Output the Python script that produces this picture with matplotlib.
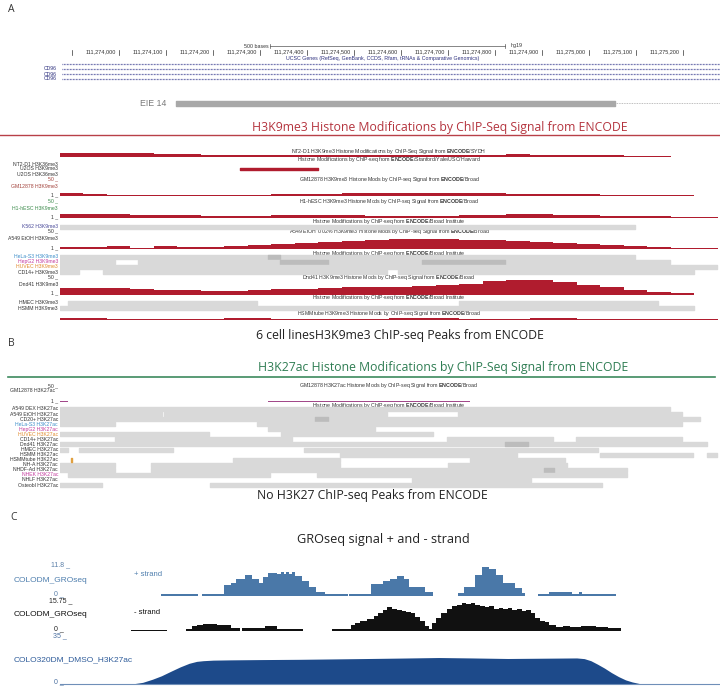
import numpy as np
import matplotlib
matplotlib.use("Agg")
import matplotlib.pyplot as plt

plt.rcParams["font.family"] = ["Liberation Sans", "DejaVu Sans"]
plt.rcParams["mathtext.fontset"] = "custom"
plt.rcParams["mathtext.rm"] = "Liberation Sans"
plt.rcParams["mathtext.bf"] = "Liberation Sans:bold"

W, H = 720, 690
POS0 = 111274000            # genomic positions below are offsets (bp) from here
WIN = (-126, 1279)          # browser window
DATA_X0, DATA_X1 = 60, 720  # pixel span of the data area

RED = "#b01c2e"
GREY = "#d9d9d9"
DARK_GREY = "#bcbcbc"
NAVY = "#2c2f7e"

# ---------------- ruler / genes ----------------
RULER_TICKS = list(range(-100, 1300, 100))
SCALE_BAR = (321, 500)
GENE_NAMES = ["", "CD96", "CD96", "CD96"]
EIE_START, EIE_END = 121, 1055

# ---------------- H3K9me3 signal (50 bp bins) ----------------
CHIP_BIN0, CHIP_BIN = -126, 50
NT2_H3K9ME3 = [14, 14, 12, 11, 9, 8, 6, 6, 5, 5, 5, 6, 6, 5, 5, 5, 5, 6, 6, 8, 6, 5, 5, 5, 2, 2, 0, 0]
GM12878_H3K9ME3 = [9, 5, 3, 3, 3, 3, 3, 3, 3, 5, 6, 6, 8, 8, 9, 9, 9, 8, 8, 6, 6, 5, 5, 3, 3, 2, 2, 0]
H1_H3K9ME3 = [12, 12, 11, 9, 9, 8, 6, 6, 6, 9, 9, 9, 9, 6, 6, 6, 6, 8, 9, 11, 11, 9, 8, 6, 6, 5, 3, 2]
A549_H3K9ME3 = [6, 6, 9, 3, 9, 6, 6, 9, 12, 15, 19, 22, 25, 28, 31, 31, 31, 28, 28, 25, 22, 19, 15, 12, 9, 6, 3, 3]
DND41_H3K9ME3 = [22, 22, 22, 19, 16, 16, 12, 12, 16, 19, 19, 22, 25, 25, 25, 28, 31, 34, 43, 47, 47, 40, 31, 25, 16, 9, 5, 0]
HSMMTUBE_H3K9ME3 = [5, 5, 4, 4, 4, 4, 4, 5, 5, 4, 4, 4, 4, 4, 5, 5, 5, 4, 4, 4, 5, 5, 4, 4, 4, 4, 3, 2]
U2OS_PEAK = (257, 423)

# H3K9me3 peak rows: (cell, y, segments, darker segments)
A_PEAKS = [
    ("K562", 227, [(-126, 1098)], []),
    ("HeLa-S3", 257, [(-126, 1098)], [(317, 343)]),
    ("HepG2", 262, [(-126, -9), (40, 1173)], [(343, 445), (645, 821)]),
    ("HUVEC", 267, [(-126, 1273)], []),
    ("CD14+", 272, [(-126, -85), (-34, 570), (594, 1224)], []),
    ("HMEC", 303, [(-109, 294), (724, 1147)], []),
    ("HSMM", 308, [(-126, 1224)], []),
]

# ---------------- H3K27ac ----------------
GM12878_H3K27AC_START = [-126, 317]
GM12878_H3K27AC_END = [-109, 747]
B_CELLS = ["A549 DEX", "A549 EtOH", "CD20+", "HeLa-S3", "HepG2", "HUVEC", "CD14+", "Dnd41",
           "HMEC", "HSMM", "HSMMtube", "NH-A", "NHDF-Ad", "NHEK", "NHLF", "Osteobl"]
B_COLORS = ["#333333", "#333333", "#333333", "#3d8ec9", "#c43c9e", "#e08a2c", "#333333", "#333333",
            "#333333", "#333333", "#333333", "#333333", "#333333", "#c43c9e", "#333333", "#333333"]
B_PEAKS = [
    [(-126, 1173)],
    [(-126, 92), (96, 570), (721, 1198)],
    [(-126, 1236)],
    [(-126, -9), (294, 1198)],
    [(317, 545)],
    [(-126, 192), (345, 668)],
    [(-9, 368), (698, 924), (973, 1198)],
    [(-126, 1251)],
    [(-126, -109), (-85, 115), (394, 1019)],
    [(470, 847), (1024, 1221), (1251, 1273)],
    [(243, 470), (747, 949)],
    [(-126, -9), (68, 470), (700, 953)],
    [(-126, -9), (68, 1081)],
    [(-109, 321), (421, 623), (626, 1081)],
    [(623, 877)],
    [(-126, -36), (194, 1028)],
]
B_DARK = {2: [(417, 445)], 7: [(821, 870)], 12: [(904, 926)]}

# ---------------- GRO-seq ----------------
GRO_PLUS_START = [90, 176, 223, 238, 248, 267, 282, 297, 306, 316, 336, 345, 350, 356, 361, 367, 375, 390, 405, 419, 439,
                  490, 537, 562, 576, 591, 606, 616, 650,
                  721, 734, 758, 773, 788, 802, 817, 842, 857,
                  891, 915, 964, 979, 985]
GRO_PLUS_END = [167, 223, 238, 248, 267, 282, 297, 306, 316, 336, 345, 350, 356, 361, 367, 375, 390, 405, 419, 439, 488,
                537, 562, 576, 591, 606, 616, 650, 668,
                734, 758, 773, 788, 802, 817, 842, 857, 863,
                915, 964, 979, 985, 1058]
GRO_PLUS_VAL = [0.74, 0.74, 4.4, 5.3, 6.8, 8.1, 6.8, 5.3, 7.6, 9.0, 8.7, 9.5, 8.7, 9.6, 8.7, 9.3, 7.7, 6.0, 3.7, 1.6, 0.74,
                0.74, 4.7, 5.8, 6.6, 7.7, 6.8, 3.7, 1.4,
                1.05, 3.7, 8.4, 11.4, 10.5, 8.4, 5.3, 3.2, 1.05,
                0.95, 1.4, 0.95, 1.4, 0.95]

GRO_MINUS_START = [25, 142, 154, 166, 179, 208, 238, 261, 311, 336,
                   454, 493, 503, 513, 527, 542, 552, 562, 571, 581, 591, 601, 611, 621, 630, 640, 650, 660,
                   665, 675, 685, 697, 709, 719, 729, 739, 749, 758, 768, 778, 788, 798, 808, 818, 827, 837,
                   847, 857, 867, 876, 886, 896, 906, 915, 930, 945, 960, 984, 1014, 1040]
GRO_MINUS_END = [102, 154, 166, 179, 208, 238, 257, 311, 336, 392,
                 493, 503, 513, 527, 542, 552, 562, 571, 581, 591, 601, 611, 621, 630, 640, 650, 660, 665,
                 675, 685, 697, 709, 719, 729, 739, 749, 758, 768, 778, 788, 798, 808, 818, 827, 837, 847,
                 857, 867, 876, 886, 896, 906, 915, 930, 945, 960, 984, 1014, 1040, 1068]
GRO_MINUS_VAL = [0.66, 1.2, 2.5, 3.0, 3.8, 3.3, 1.6, 1.6, 2.5, 1.3,
                 1.2, 3.0, 4.2, 5.5, 6.5, 8.0, 9.2, 11.0, 12.4, 11.8, 11.2, 10.6, 10.0, 9.2, 7.5, 5.0, 2.5, 0.8,
                 4.0, 7.0, 9.5, 11.5, 13.0, 13.8, 14.8, 14.3, 14.9, 13.6, 13.2, 12.5, 12.9, 11.8, 12.2, 11.3, 11.9, 10.8,
                 11.5, 10.3, 10.8, 9.2, 7.0, 5.5, 4.5, 3.0, 2.2, 2.6, 2.0, 2.5, 1.9, 1.7]

H3K27AC_POS = [27, 50, 71, 90, 110, 130, 149, 165, 179, 200, 238, 300, 385, 460, 532, 600, 680, 750, 827, 900,
               974, 990, 1004, 1018, 1033, 1048, 1063, 1078, 1092, 1112]
H3K27AC_VAL = [0, 1.2, 3.5, 6.0, 9.3, 12.5, 15.1, 16.5, 17.0, 17.4, 17.6, 17.8, 18.0, 18.3, 18.6, 18.9, 19.3, 19.0, 18.6, 18.8,
               19.0, 18.5, 17.0, 14.5, 11.6, 8.3, 5.4, 3.0, 1.5, 0]


fig = plt.figure(figsize=(W / 100, H / 100), dpi=100)
canvas = fig.add_axes([0, 0, 1, 1])
canvas.set_xlim(0, W)
canvas.set_ylim(H, 0)
canvas.axis("off")

genome = fig.add_axes([DATA_X0 / W, 0, (DATA_X1 - DATA_X0) / W, 1])
genome.set_xlim(*WIN)
genome.set_ylim(H, 0)
genome.axis("off")


def track_ax(y_top, y_base, vmax):
    ax = fig.add_axes([DATA_X0 / W, 1 - y_base / H, (DATA_X1 - DATA_X0) / W, (y_base - y_top) / H])
    ax.set_xlim(*WIN)
    ax.set_ylim(0, vmax)
    ax.axis("off")
    return ax


def txt(x, y, s, size=3.7, color="#333333", ha="right", **kw):
    canvas.text(x, y, s, fontsize=size, color=color, ha=ha, va="center", **kw)


def centre(y, s):
    canvas.text(389, y, s, fontsize=3.8, color="#333333", ha="center", va="center")


def title(x, y, s, color, size=8.8):
    canvas.text(x, y, s, fontsize=size, color=color, ha="center", va="center", family="Open Sans")


ENC = r"$\mathbf{ENCODE}$"

# ---------------- panel A ----------------
canvas.text(8, 10, "A", fontsize=7.5, color="#333333", va="center", family="Open Sans")

genome.plot([SCALE_BAR[0], SCALE_BAR[0] + SCALE_BAR[1]], [46, 46], color="#555555", lw=0.5)
for b in (SCALE_BAR[0], SCALE_BAR[0] + SCALE_BAR[1]):
    genome.plot([b, b], [44, 48], color="#555555", lw=0.5)
genome.text(SCALE_BAR[0] - 2, 46, "500 bases", fontsize=3.8, color="#333333", ha="right", va="center")
genome.text(SCALE_BAR[0] + SCALE_BAR[1] + 12, 46, "hg19", fontsize=3.8, color="#333333", ha="left", va="center")
for t in RULER_TICKS:
    genome.plot([t, t], [49.5, 54.5], color="#333333", lw=0.5)
    if t >= 0:
        genome.text(t - 6, 52, f"{POS0 + t:,}", fontsize=4.0, color="#333333", ha="right", va="center")
genome.text(560, 58.5, "UCSC Genes (RefSeq, GenBank, CCDS, Rfam, tRNAs & Comparative Genomics)",
            fontsize=3.8, color=NAVY, ha="center", va="center")
for i, name in enumerate(GENE_NAMES):
    y = 64 + 5 * i
    genome.plot([WIN[0] + 5, WIN[1]], [y, y], color="#4b4f9a", lw=0.9, ls=(0, (0.6, 0.6)))
    if name:
        txt(57, y, name, color=NAVY)

txt(166, 103, "EIE 14", size=6.3, color="#7a7a7a")
genome.broken_barh([(EIE_START, EIE_END - EIE_START)], (100.5, 5), color="#a8a8a8")
genome.plot([EIE_END, WIN[1]], [103, 103], color="#a8a8a8", lw=0.6, ls=(0, (1, 1)))

title(440, 127, "H3K9me3 Histone Modifications by ChIP-Seq Signal from ENCODE", "#b4343e")
canvas.plot([0, W], [135, 135], color="#b84048", lw=1.0)

edges = CHIP_BIN0 + CHIP_BIN * np.arange(len(NT2_H3K9ME3) + 1)
for vals, top, base in [(NT2_H3K9ME3, 141, 157), (GM12878_H3K9ME3, 180, 196), (H1_H3K9ME3, 202, 218),
                        (A549_H3K9ME3, 233, 249), (DND41_H3K9ME3, 279, 295), (HSMMTUBE_H3K9ME3, 304, 320)]:
    ax = track_ax(top, base, 50)
    ax.stairs(vals, edges, fill=True, color=RED, lw=0)

genome.broken_barh([(U2OS_PEAK[0], U2OS_PEAK[1] - U2OS_PEAK[0])], (168, 2.2), color=RED)

centre(151, "NT2-D1 H3K9me3 Histone Modifications by ChIP-Seq Signal from " + ENC + "/SYDH")
centre(160, "Histone Modifications by ChIP-seq from " + ENC + "/Stanford/Yale/USC/Harvard")
centre(179, "GM12878 H3K9me3 Histone Mods by ChIP-seq Signal from " + ENC + "/Broad")
centre(201, "H1-hESC H3K9me3 Histone Mods by ChIP-seq Signal from " + ENC + "/Broad")
centre(222, "Histone Modifications by ChIP-seq from " + ENC + "/Broad Institute")
centre(231, "A549 EtOH 0.02% H3K9me3 Histone Mods by ChIP-seq Signal from " + ENC + "/Broad")
centre(253, "Histone Modifications by ChIP-seq from " + ENC + "/Broad Institute")
centre(277, "Dnd41 H3K9me3 Histone Mods by ChIP-seq Signal from " + ENC + "/Broad")
centre(298, "Histone Modifications by ChIP-seq from " + ENC + "/Broad Institute")
centre(313, "HSMMtube H3K9me3 Histone Mods by ChIP-seq Signal from " + ENC + "/Broad")

txt(58, 164, "NT2-D1 H3K36me3")
txt(58, 169, "U2OS H3K9me3")
txt(58, 174, "U2OS H3K36me3")
txt(58, 179, "50 _", color="#a2413a")
txt(58, 187, "GM12878 H3K9me3", color="#a2413a")
txt(58, 195, "1 _")
txt(58, 201, "50 _", color="#3a8a4a")
txt(58, 208, "H1-hESC H3K9me3", color="#3a8a4a")
txt(58, 217, "1 _")
txt(58, 231, "50 _")
txt(58, 239, "A549 EtOH H3K9me3")
txt(58, 248, "1 _")
txt(58, 277, "50 _")
txt(58, 285, "Dnd41 H3K9me3")
txt(58, 293, "1 _")
A_COLORS = {"K562": "#4a4a9a", "HeLa-S3": "#3d8ec9", "HepG2": "#c43c9e", "HUVEC": "#e08a2c"}
for cell, y, segs, dark in A_PEAKS:
    txt(58, y, cell + " H3K9me3", color=A_COLORS.get(cell, "#333333"))
    genome.broken_barh([(a, b - a) for a, b in segs], (y - 2, 4), color=GREY)
    if dark:
        genome.broken_barh([(a, b - a) for a, b in dark], (y - 2, 4), color=DARK_GREY)

title(400, 335, "6 cell linesH3K9me3 ChIP-seq Peaks from ENCODE", "#222222")

# ---------------- panel B ----------------
canvas.text(8, 343, "B", fontsize=7.5, color="#333333", va="center", family="Open Sans")
title(443, 367, "H3K27ac Histone Modifications by ChIP-Seq Signal from ENCODE", "#2f7d53")
canvas.plot([8, 715], [377, 377], color="#3d8a5e", lw=1.2)

txt(58, 386, "50 _")
txt(55, 391, "GM12878 H3K27ac")
txt(58, 401, "1 _")
centre(386, "GM12878 H3K27ac Histone Mods by ChIP-seq Signal from " + ENC + "/Broad")
centre(405, "Histone Modifications by ChIP-seq from " + ENC + "/Broad Institute")
ax = track_ax(386, 402, 50)
ax.bar(GM12878_H3K27AC_START, [3] * len(GM12878_H3K27AC_START),
       width=np.subtract(GM12878_H3K27AC_END, GM12878_H3K27AC_START), align="edge", color="#a2498a", lw=0)

for i, (cell, col, segs) in enumerate(zip(B_CELLS, B_COLORS, B_PEAKS)):
    y = 409 + 5.07 * i
    txt(58, y, cell + " H3K27ac", color=col)
    genome.broken_barh([(a, b - a) for a, b in segs], (y - 2, 4), color=GREY)
    if i in B_DARK:
        genome.broken_barh([(a, b - a) for a, b in B_DARK[i]], (y - 2, 4), color=DARK_GREY)
genome.broken_barh([(-103, 3)], (409 + 5.07 * 10 - 2, 4), color="#e0a040")

title(372, 496, "No H3K27 ChIP-seq Peaks from ENCODE", "#222222")

# ---------------- panel C ----------------
canvas.text(10, 517, "C", fontsize=7.5, color="#333333", va="center", family="Open Sans")
title(383, 540, "GROseq signal + and - strand", "#222222", size=9.2)

PLUS_C, MINUS_C, K27_C = "#4a78a8", "#111111", "#1d4a8a"
ax = track_ax(566, 596, 11.8)
ax.bar(GRO_PLUS_START, GRO_PLUS_VAL, width=np.subtract(GRO_PLUS_END, GRO_PLUS_START),
       align="edge", color=PLUS_C, lw=0)
ax = track_ax(601, 631, 15.75)
ax.bar(GRO_MINUS_START, GRO_MINUS_VAL, width=np.subtract(GRO_MINUS_END, GRO_MINUS_START),
       align="edge", color=MINUS_C, lw=0)
ax = track_ax(636, 684, 35)
ax.fill_between(H3K27AC_POS, H3K27AC_VAL, 0, color=K27_C, lw=0)
ax.plot(WIN, [0, 0], color="#6f8fb8", lw=0.8, clip_on=False)

txt(70, 565, "11.8 _", size=5.0, color="#5a7fa8")
txt(14, 580, "COLODM_GROseq", size=6.0, color="#4f7fae", ha="left")
txt(134, 574, "+ strand", size=5.5, color="#4f7fae", ha="left")
txt(64, 594, "0 _", size=5.0, color="#5a7fa8")
txt(72, 601, "15.75 _", size=5.0, color="#222222")
txt(14, 614, "COLODM_GROseq", size=6.0, color="#111111", ha="left")
txt(134, 612, "- strand", size=5.5, color="#111111", ha="left")
txt(64, 629, "0 _", size=5.0, color="#222222")
txt(67, 636, "35 _", size=5.0, color="#4a6fa0")
txt(14, 660, "COLO320DM_DMSO_H3K27ac", size=6.0, color="#2f5c9a", ha="left")
txt(64, 682, "0 _", size=5.0, color="#4a6fa0")

fig.savefig("out.png", dpi=100)
